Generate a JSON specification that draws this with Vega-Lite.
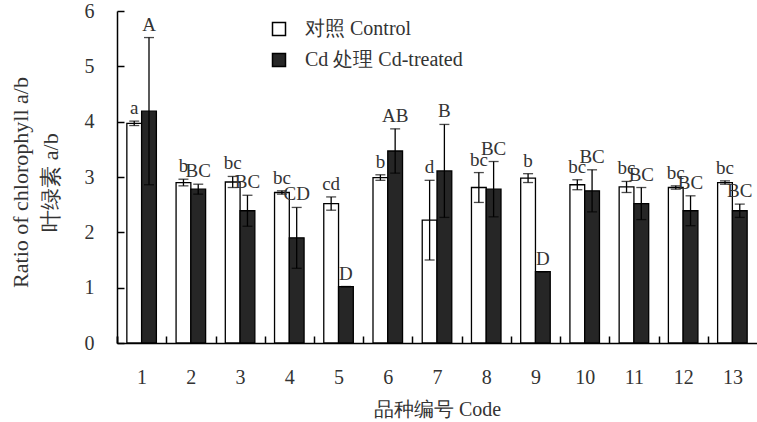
{
  "$schema": "https://vega.github.io/schema/vega-lite/v6.json",
  "width": 640,
  "height": 332,
  "autosize": {"type": "none"},
  "padding": {"left": 117, "top": 11, "right": 0, "bottom": 79},
  "background": "#ffffff",
  "config": {
    "view": {"stroke": null},
    "font": "Liberation Serif",
    "axis": {
      "domainColor": "#000000",
      "domainWidth": 1.5,
      "ticks": true,
      "tickColor": "#000000",
      "tickWidth": 1.5,
      "grid": false,
      "labelFont": "Liberation Serif",
      "labelFontSize": 20,
      "labelColor": "#333333",
      "titleFont": "Liberation Serif",
      "titleFontSize": 20,
      "titleFontWeight": "normal",
      "titleColor": "#333333"
    }
  },
  "data": {
    "values": [
      {"Code": 1, "Group": "对照 Control", "mean": 3.97, "lo": 3.93, "hi": 4.01, "letter": "a"},
      {"Code": 1, "Group": "Cd 处理 Cd-treated", "mean": 4.19, "lo": 2.86, "hi": 5.52, "letter": "A"},
      {"Code": 2, "Group": "对照 Control", "mean": 2.9, "lo": 2.84, "hi": 2.96, "letter": "b"},
      {"Code": 2, "Group": "Cd 处理 Cd-treated", "mean": 2.78, "lo": 2.69, "hi": 2.87, "letter": "BC"},
      {"Code": 3, "Group": "对照 Control", "mean": 2.91, "lo": 2.81, "hi": 3.01, "letter": "bc"},
      {"Code": 3, "Group": "Cd 处理 Cd-treated", "mean": 2.39, "lo": 2.11, "hi": 2.67, "letter": "BC"},
      {"Code": 4, "Group": "对照 Control", "mean": 2.72, "lo": 2.69, "hi": 2.75, "letter": "bc"},
      {"Code": 4, "Group": "Cd 处理 Cd-treated", "mean": 1.9, "lo": 1.35, "hi": 2.45, "letter": "CD"},
      {"Code": 5, "Group": "对照 Control", "mean": 2.52, "lo": 2.4, "hi": 2.64, "letter": "cd"},
      {"Code": 5, "Group": "Cd 处理 Cd-treated", "mean": 1.02, "lo": 1.02, "hi": 1.02, "letter": "D"},
      {"Code": 6, "Group": "对照 Control", "mean": 2.99, "lo": 2.94, "hi": 3.04, "letter": "b"},
      {"Code": 6, "Group": "Cd 处理 Cd-treated", "mean": 3.47, "lo": 3.07, "hi": 3.87, "letter": "AB"},
      {"Code": 7, "Group": "对照 Control", "mean": 2.22, "lo": 1.5, "hi": 2.94, "letter": "d"},
      {"Code": 7, "Group": "Cd 处理 Cd-treated", "mean": 3.11, "lo": 2.27, "hi": 3.95, "letter": "B"},
      {"Code": 8, "Group": "对照 Control", "mean": 2.81, "lo": 2.54, "hi": 3.08, "letter": "bc"},
      {"Code": 8, "Group": "Cd 处理 Cd-treated", "mean": 2.78, "lo": 2.28, "hi": 3.28, "letter": "BC"},
      {"Code": 9, "Group": "对照 Control", "mean": 2.98, "lo": 2.9, "hi": 3.06, "letter": "b"},
      {"Code": 9, "Group": "Cd 处理 Cd-treated", "mean": 1.29, "lo": 1.29, "hi": 1.29, "letter": "D"},
      {"Code": 10, "Group": "对照 Control", "mean": 2.86, "lo": 2.77, "hi": 2.95, "letter": "bc"},
      {"Code": 10, "Group": "Cd 处理 Cd-treated", "mean": 2.75, "lo": 2.37, "hi": 3.13, "letter": "BC"},
      {"Code": 11, "Group": "对照 Control", "mean": 2.82, "lo": 2.72, "hi": 2.92, "letter": "bc"},
      {"Code": 11, "Group": "Cd 处理 Cd-treated", "mean": 2.52, "lo": 2.23, "hi": 2.81, "letter": "BC"},
      {"Code": 12, "Group": "对照 Control", "mean": 2.81, "lo": 2.78, "hi": 2.84, "letter": "bc"},
      {"Code": 12, "Group": "Cd 处理 Cd-treated", "mean": 2.39, "lo": 2.12, "hi": 2.66, "letter": "BC"},
      {"Code": 13, "Group": "对照 Control", "mean": 2.9, "lo": 2.87, "hi": 2.93, "letter": "bc"},
      {"Code": 13, "Group": "Cd 处理 Cd-treated", "mean": 2.39, "lo": 2.27, "hi": 2.51, "letter": "BC"}
    ]
  },
  "encoding": {
    "x": {
      "field": "Code",
      "type": "ordinal",
      "scale": {"paddingInner": 0.4, "paddingOuter": 0.2},
      "title": "品种编号 Code",
      "axis": {
        "labelAngle": 0,
        "bandPosition": 0,
        "tickExtra": true,
        "tickOffset": -9.8,
        "labelOffset": 9.8,
        "tickSize": -7,
        "labelPadding": 31,
        "titlePadding": 12
      }
    },
    "xOffset": {
      "field": "Group",
      "type": "nominal",
      "sort": ["对照 Control", "Cd 处理 Cd-treated"],
      "scale": {"paddingInner": 0, "paddingOuter": 0}
    }
  },
  "layer": [
    {
      "mark": {"type": "bar", "stroke": "#000000", "strokeWidth": 1.3},
      "encoding": {
        "y": {
          "field": "mean",
          "type": "quantitative",
          "scale": {"domain": [0, 6], "nice": false},
          "title": ["Ratio of chlorophyll a/b", "叶绿素 a/b"],
          "axis": {
            "values": [0, 1, 2, 3, 4, 5, 6],
            "format": "d",
            "tickSize": -7,
            "labelPadding": 30,
            "titlePadding": 22,
            "titleFontSize": 22,
            "titleLineHeight": 30,
            "titleY": 171
          }
        },
        "fill": {
          "field": "Group",
          "type": "nominal",
          "scale": {"domain": ["对照 Control", "Cd 处理 Cd-treated"], "range": ["#ffffff", "#262626"]},
          "legend": {
            "title": null,
            "orient": "none",
            "legendX": 152,
            "legendY": 8,
            "symbolType": "square",
            "symbolSize": 169,
            "symbolStrokeColor": "#000000",
            "symbolStrokeWidth": 1.5,
            "labelFont": "Liberation Serif",
            "labelFontSize": 20,
            "labelColor": "#333333",
            "labelOffset": 16,
            "rowPadding": 11
          }
        }
      }
    },
    {
      "mark": {"type": "rule", "color": "#000000", "strokeWidth": 1.3},
      "encoding": {
        "y": {"field": "lo", "type": "quantitative"},
        "y2": {"field": "hi"}
      }
    },
    {
      "mark": {"type": "tick", "color": "#000000", "thickness": 1.3, "size": 10, "orient": "horizontal"},
      "encoding": {"y": {"field": "hi", "type": "quantitative"}}
    },
    {
      "mark": {"type": "tick", "color": "#000000", "thickness": 1.3, "size": 10, "orient": "horizontal"},
      "encoding": {"y": {"field": "lo", "type": "quantitative"}}
    },
    {
      "mark": {"type": "text", "dy": -7, "fontSize": 19, "baseline": "alphabetic", "color": "#333333", "font": "Liberation Serif"},
      "encoding": {
        "y": {"field": "hi", "type": "quantitative"},
        "text": {"field": "letter"}
      }
    }
  ]
}
